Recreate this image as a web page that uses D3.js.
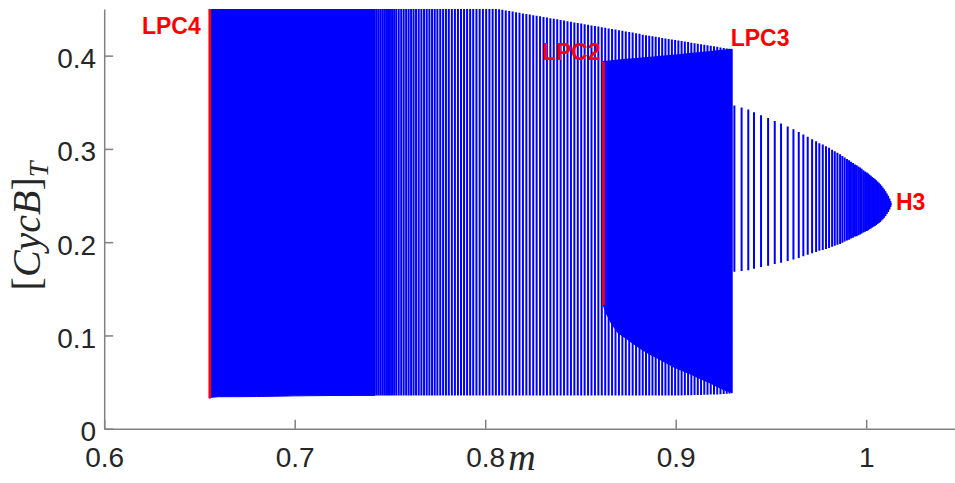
<!DOCTYPE html>
<html>
<head>
<meta charset="utf-8">
<script src="https://cdn.jsdelivr.net/npm/d3@7"></script>
<style>
  html, body { margin: 0; padding: 0; background: #ffffff; }
  svg { display: block; }
</style>
</head>
<body>
<svg id="chart" width="955" height="483"></svg>
<script>
// ---------------------------------------------------------------
// Limit-cycle continuation: each cycle is drawn as a vertical
// segment from its minimum to its maximum of [CycB]_T at parameter m.
// ---------------------------------------------------------------

const xDomain = [0.6, 1.05];
const yDomain = [0, 0.45];
const xTicks = [0.6, 0.7, 0.8, 0.9, 1.0];
const yTicks = [0, 0.1, 0.2, 0.3, 0.4];

// Main branch, densely sampled part (LPC4 onwards) — envelope
const aDenseM   = [0.6554, 0.6560, 0.6600, 0.6700, 0.6800, 0.6900, 0.7000, 0.7200, 0.7420];
const aDenseMax = [0.504, 0.504, 0.502, 0.498, 0.495, 0.491, 0.488, 0.481, 0.473];
const aDenseMin = [0.0326, 0.0336, 0.0343, 0.0343, 0.0345, 0.0348, 0.0352, 0.0356, 0.0357];

// Main branch, individual cycles up to LPC3
const aM = [
  0.7420, 0.7430, 0.7440, 0.7450, 0.7460, 0.7470, 0.7480, 0.7490, 0.7500, 0.7511, 0.7522, 0.7533,
  0.7546, 0.7559, 0.7572, 0.7585, 0.7598, 0.7611, 0.7624, 0.7637, 0.7651, 0.7665,
  0.7679, 0.7693, 0.7707, 0.7721, 0.7735, 0.7749, 0.7764, 0.7779, 0.7794, 0.7809,
  0.7825, 0.7841, 0.7857, 0.7873, 0.7889, 0.7905, 0.7921, 0.7937, 0.7954, 0.7971,
  0.7988, 0.8005, 0.8022, 0.8039, 0.8056, 0.8073, 0.8090,
  0.8108, 0.8126, 0.8144, 0.8162, 0.8180, 0.8198, 0.8216, 0.8234, 0.8252, 0.8270,
  0.8288, 0.8306, 0.8324, 0.8342, 0.8360, 0.8378, 0.8396, 0.8414, 0.8432, 0.8450,
  0.8468, 0.8486, 0.8504, 0.8522, 0.8540, 0.8558, 0.8576, 0.8594, 0.8612, 0.8630,
  0.8648, 0.8666, 0.8684, 0.8702, 0.8720, 0.8738, 0.8756, 0.8774, 0.8792, 0.8810,
  0.8827, 0.8844, 0.8861, 0.8878, 0.8895, 0.8912, 0.8929, 0.8946, 0.8963, 0.8980, 0.8997,
  0.9014, 0.9031, 0.9048, 0.9065, 0.9082, 0.9099, 0.9116, 0.9133, 0.9150, 0.9167,
  0.9184, 0.9201, 0.9218, 0.9235, 0.9252, 0.9268, 0.9282, 0.9293
];
const aMax = [
  0.4730, 0.4726, 0.4722, 0.4719, 0.4715, 0.4712, 0.4708, 0.4705, 0.4701, 0.4697, 0.4693, 0.4689,
  0.4685, 0.4680, 0.4675, 0.4671, 0.4666, 0.4662, 0.4657, 0.4652, 0.4647, 0.4642,
  0.4637, 0.4632, 0.4627, 0.4622, 0.4617, 0.4612, 0.4607, 0.4602, 0.4596, 0.4591,
  0.4585, 0.4580, 0.4574, 0.4568, 0.4563, 0.4557, 0.4551, 0.4545, 0.4539, 0.4533,
  0.4527, 0.4521, 0.4515, 0.4509, 0.4503, 0.4497, 0.4491,
  0.4485, 0.4478, 0.4472, 0.4465, 0.4459, 0.4453, 0.4446, 0.4440, 0.4433, 0.4427,
  0.4421, 0.4414, 0.4408, 0.4401, 0.4395, 0.4389, 0.4382, 0.4376, 0.4369, 0.4363,
  0.4356, 0.4350, 0.4344, 0.4337, 0.4331, 0.4324, 0.4318, 0.4312, 0.4305, 0.4299,
  0.4292, 0.4286, 0.4280, 0.4273, 0.4267, 0.4260, 0.4254, 0.4248, 0.4241, 0.4235,
  0.4224, 0.4219, 0.4213, 0.4207, 0.4202, 0.4196, 0.4190, 0.4185, 0.4179, 0.4173, 0.4168,
  0.4162, 0.4156, 0.4151, 0.4145, 0.4139, 0.4134, 0.4128, 0.4122, 0.4117, 0.4111,
  0.4105, 0.4100, 0.4094, 0.4088, 0.4083, 0.4077, 0.4073, 0.4069
];
const aMin = [
  0.0357, 0.0357, 0.0357, 0.0357, 0.0357, 0.0357, 0.0357, 0.0357, 0.0357, 0.0357, 0.0357, 0.0357,
  0.0357, 0.0357, 0.0357, 0.0357, 0.0357, 0.0357, 0.0357, 0.0357, 0.0357, 0.0357,
  0.0357, 0.0357, 0.0357, 0.0357, 0.0357, 0.0357, 0.0357, 0.0357, 0.0357, 0.0357,
  0.0357, 0.0357, 0.0357, 0.0357, 0.0357, 0.0357, 0.0357, 0.0357, 0.0357, 0.0357,
  0.0357, 0.0357, 0.0357, 0.0357, 0.0357, 0.0357, 0.0357,
  0.0356, 0.0356, 0.0356, 0.0356, 0.0356, 0.0356, 0.0356, 0.0356, 0.0356, 0.0356,
  0.0356, 0.0356, 0.0356, 0.0356, 0.0356, 0.0356, 0.0356, 0.0356, 0.0356, 0.0356,
  0.0356, 0.0356, 0.0356, 0.0356, 0.0356, 0.0356, 0.0356, 0.0356, 0.0356, 0.0356,
  0.0356, 0.0356, 0.0356, 0.0356, 0.0356, 0.0356, 0.0356, 0.0356, 0.0356, 0.0356,
  0.0356, 0.0356, 0.0356, 0.0356, 0.0356, 0.0356, 0.0356, 0.0356, 0.0356, 0.0356, 0.0356,
  0.0357, 0.0357, 0.0358, 0.0358, 0.0359, 0.0360, 0.0361, 0.0362, 0.0363, 0.0364,
  0.0366, 0.0367, 0.0368, 0.0370, 0.0372, 0.0375, 0.0378, 0.0381
];

// Branch between LPC2 and LPC3 — envelope of its densely packed cycles
const bM   = [0.8621, 0.8638, 0.8664, 0.8699, 0.8743, 0.8778, 0.8822, 0.8866, 0.8909,
              0.8953, 0.8997, 0.9040, 0.9084, 0.9128, 0.9171, 0.9215, 0.9259, 0.9294];
const bMax = [0.3935, 0.3938, 0.3943, 0.3950, 0.3958, 0.3965, 0.3973, 0.3981, 0.3989,
              0.3997, 0.4005, 0.4013, 0.4022, 0.4031, 0.4040, 0.4049, 0.4058, 0.4065];
const bMin = [0.1325, 0.1236, 0.1130, 0.1029, 0.0968, 0.0915, 0.0854, 0.0800, 0.0754,
              0.0707, 0.0658, 0.0621, 0.0583, 0.0540, 0.0504, 0.0458, 0.0415, 0.0397];

// Branch born at the Hopf point H3
const dM = [
  0.9308, 0.9346, 0.9381, 0.9411, 0.9448, 0.9485, 0.9520, 0.9553, 0.9588, 0.9618,
  0.9646, 0.9670, 0.9693, 0.9716, 0.9737, 0.9754, 0.9772, 0.9789, 0.9805, 0.9821,
  0.9835, 0.9849, 0.9863, 0.9875, 0.9887, 0.9899, 0.9910, 0.9920, 0.9931, 0.9941,
  0.9950, 0.9959, 0.9968, 0.9976, 0.9985, 0.9994, 1.0003, 1.0010, 1.0017, 1.0024,
  1.0031, 1.0038, 1.0045, 1.0052, 1.0059, 1.0066, 1.0073, 1.0080, 1.0087, 1.0094,
  1.0101, 1.0108, 1.0115, 1.0122, 1.0127, 1.0130
];
const dMax = [
  0.3466, 0.3444, 0.3422, 0.3393, 0.3361, 0.3332, 0.3300, 0.3272, 0.3240, 0.3211,
  0.3182, 0.3154, 0.3129, 0.3104, 0.3083, 0.3061, 0.3047, 0.3029, 0.3011, 0.2992,
  0.2975, 0.2959, 0.2943, 0.2925, 0.2908, 0.2893, 0.2879, 0.2861, 0.2850, 0.2833,
  0.2825, 0.2811, 0.2801, 0.2786, 0.2772, 0.2759, 0.2747, 0.2735, 0.2724, 0.2712,
  0.2700, 0.2689, 0.2677, 0.2665, 0.2651, 0.2636, 0.2622, 0.2604, 0.2586, 0.2568,
  0.2547, 0.2522, 0.2499, 0.2469, 0.2440, 0.2415
];
const dMin = [
  0.1683, 0.1692, 0.1699, 0.1716, 0.1733, 0.1747, 0.1765, 0.1779, 0.1797, 0.1814,
  0.1831, 0.1849, 0.1865, 0.1881, 0.1894, 0.1908, 0.1915, 0.1926, 0.1937, 0.1950,
  0.1961, 0.1971, 0.1981, 0.1995, 0.2007, 0.2017, 0.2026, 0.2040, 0.2047, 0.2060,
  0.2063, 0.2074, 0.2081, 0.2092, 0.2103, 0.2112, 0.2120, 0.2129, 0.2138, 0.2147,
  0.2156, 0.2164, 0.2174, 0.2183, 0.2194, 0.2206, 0.2217, 0.2232, 0.2247, 0.2262,
  0.2281, 0.2303, 0.2323, 0.2350, 0.2377, 0.2400
];

// Limit points of cycles drawn in red
const lpcM   = [0.6554, 0.8621];
const lpcMax = [0.504, 0.3935];
const lpcMin = [0.0326, 0.1325];

// Special-point labels
const ptLabels = ["LPC4", "LPC2", "LPC3", "H3"];
const ptM      = [0.6554, 0.8621, 0.9294, 1.0130];
const ptVal    = [0.450, 0.3935, 0.4069, 0.2408];

// ---------------------------------------------------------------
const zip3 = (ms, hi, lo) => ms.map((m, i) => ({ m, hi: hi[i], lo: lo[i] }));

const svg = d3.select("#chart");
const BLUE = "#0000ff", RED = "#ff0000", AXIS = "#808080", TXT = "#262626";

const x = d3.scaleLinear().domain(xDomain).range([104.2, 961.45]);
const y = d3.scaleLinear().domain(yDomain).range([428.7, 9]);

svg.append("defs").append("clipPath").attr("id", "plotClip")
  .append("rect")
  .attr("x", x.range()[0])
  .attr("y", y.range()[1])
  .attr("width", x.range()[1] - x.range()[0])
  .attr("height", y.range()[0] - y.range()[1]);

const plot = svg.append("g").attr("clip-path", "url(#plotClip)");

const area = d3.area().x(d => x(d.m)).y0(d => y(d.lo)).y1(d => y(d.hi));

// main branch, dense part
plot.append("path")
  .datum(zip3(aDenseM, aDenseMax, aDenseMin))
  .attr("d", area)
  .attr("fill", BLUE).attr("stroke", BLUE).attr("stroke-width", 1);

// main branch, individual cycles
plot.append("g").selectAll("line")
  .data(zip3(aM, aMax, aMin))
  .join("line")
  .attr("x1", d => x(d.m)).attr("x2", d => x(d.m))
  .attr("y1", d => y(d.lo)).attr("y2", d => y(d.hi))
  .attr("stroke", BLUE).attr("stroke-width", 2);

// LPC2–LPC3 branch
plot.append("path")
  .datum(zip3(bM, bMax, bMin))
  .attr("d", area)
  .attr("fill", BLUE).attr("stroke", BLUE).attr("stroke-width", 1.5);

// Hopf branch
plot.append("g").selectAll("line")
  .data(zip3(dM, dMax, dMin))
  .join("line")
  .attr("x1", d => x(d.m)).attr("x2", d => x(d.m))
  .attr("y1", d => y(d.lo)).attr("y2", d => y(d.hi))
  .attr("stroke", BLUE).attr("stroke-width", 2);

// limit points of cycles
plot.append("g").selectAll("line")
  .data(zip3(lpcM, lpcMax, lpcMin))
  .join("line")
  .attr("x1", d => x(d.m)).attr("x2", d => x(d.m))
  .attr("y1", d => y(d.lo)).attr("y2", d => y(d.hi))
  .attr("stroke", RED).attr("stroke-width", 2.6);

// axes
const fmt = d3.format("~g");
const gx = svg.append("g").attr("transform", `translate(0,${y(0)})`)
  .call(d3.axisBottom(x).tickValues(xTicks).tickFormat(fmt)
    .tickSizeInner(-9).tickSizeOuter(0).tickPadding(18));
const gy = svg.append("g").attr("transform", `translate(${x(0.6)},0)`)
  .call(d3.axisLeft(y).tickValues(yTicks).tickFormat(fmt)
    .tickSizeInner(-9).tickSizeOuter(0).tickPadding(8));

[gx, gy].forEach(g => {
  g.attr("font-family", "'Liberation Sans', Arial, Helvetica, sans-serif").attr("font-size", 28);
  g.select(".domain").attr("stroke", AXIS).attr("stroke-width", 1.5);
  g.selectAll(".tick line").attr("stroke", AXIS).attr("stroke-width", 1.5);
  g.selectAll(".tick text").attr("fill", TXT);
});
gy.selectAll(".tick text").attr("dy", "0.43em");

// axis titles
const serif = "'Liberation Serif', 'Times New Roman', serif";
svg.append("text")
  .attr("x", 522).attr("y", 470)
  .attr("text-anchor", "middle")
  .attr("font-family", serif).attr("font-style", "italic")
  .attr("font-size", 38).attr("fill", TXT)
  .text("m");

const yl = svg.append("text")
  .attr("transform", "translate(40,226) rotate(-90)")
  .attr("text-anchor", "middle")
  .attr("font-family", serif).attr("font-size", 40).attr("fill", TXT);
yl.append("tspan").text("[");
yl.append("tspan").attr("font-style", "italic").text("CycB");
yl.append("tspan").text("]");
yl.append("tspan").attr("font-style", "italic").attr("font-size", 28).attr("dy", 8).text("T");

// special-point labels
const lab = svg.append("g")
  .attr("font-family", "'Liberation Sans', Arial, Helvetica, sans-serif")
  .attr("font-weight", "bold").attr("font-size", 23).attr("fill", RED);
const offs = [
  { dx: -9, dy: 25, anchor: "end" },     // LPC4
  { dx: -3, dy: -2, anchor: "end" },     // LPC2
  { dx: -1, dy: -3, anchor: "start" },   // LPC3
  { dx: 5,  dy: 6,  anchor: "start" }    // H3
];
ptLabels.forEach((t, i) => {
  lab.append("text")
    .attr("x", x(ptM[i]) + offs[i].dx)
    .attr("y", y(ptVal[i]) + offs[i].dy)
    .attr("text-anchor", offs[i].anchor)
    .text(t);
});
</script>
</body>
</html>
